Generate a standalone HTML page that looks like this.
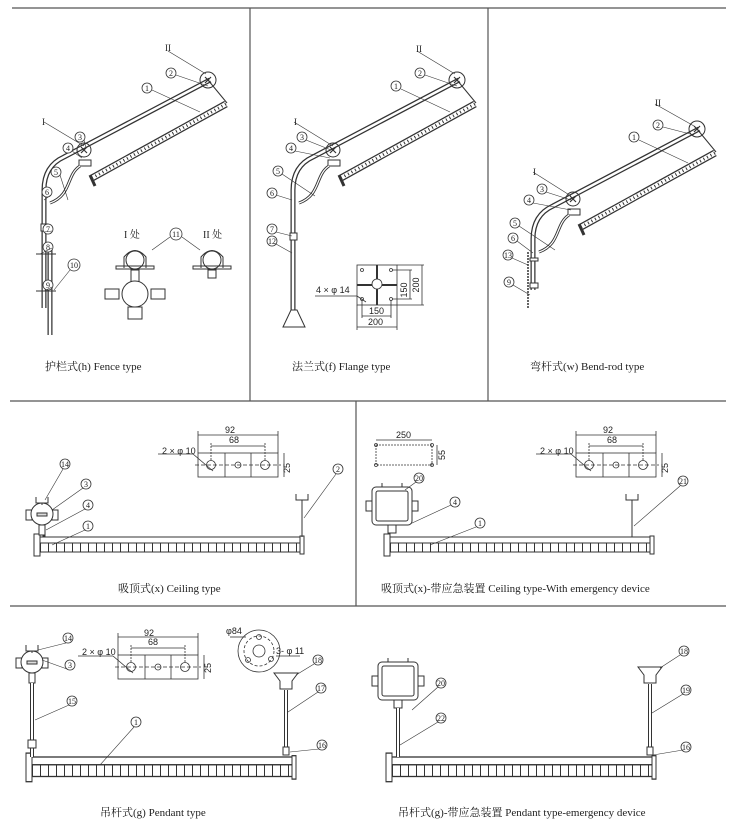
<!DOCTYPE html>
<html><head><meta charset="utf-8"><style>
html,body{margin:0;padding:0;background:#fff}
svg{display:block}
text{font-family:"Liberation Serif","Noto Serif CJK SC","Noto Sans CJK SC",serif;fill:#222}
.n{font-family:"Liberation Sans",sans-serif;font-size:8px;text-anchor:middle}
.c{font-size:11px}
.d{font-family:"Liberation Sans",sans-serif;font-size:9px}
</style></head><body>
<svg width="737" height="835" viewBox="0 0 737 835" xmlns="http://www.w3.org/2000/svg">
<defs>
<pattern id="seg" width="8" height="20" patternUnits="userSpaceOnUse"><rect width="8" height="20" fill="#fff"/><line x1="0.5" y1="0" x2="0.5" y2="20" stroke="#333" stroke-width="1"/></pattern>
<g id="arm" fill="none" stroke="#333">
<path d="M44,205 V190 Q44,166 64,157 L210,80" stroke-width="5"/>
<path d="M44,205 V190 Q44,166 64,157 L210,80" stroke="#fff" stroke-width="2.5"/>
<line x1="92" y1="178" x2="226" y2="104" stroke-width="7"/>
<line x1="92" y1="178" x2="226" y2="104" stroke="#fff" stroke-width="4.5"/>
<line x1="92" y1="178" x2="226" y2="104" stroke-width="3" stroke-dasharray="1 3"/>
<line x1="208" y1="80" x2="227" y2="103" stroke-width="1"/>
<line x1="90" y1="175" x2="95" y2="186" stroke-width="3"/>
<rect x="79" y="160" width="12" height="6" stroke-width="1" fill="#fff"/>
<path d="M80,166 C66,175 72,195 50,203" stroke-width="3"/>
<path d="M80,166 C66,175 72,195 50,203" stroke="#fff" stroke-width="1.2"/>
<circle cx="84" cy="150" r="7" stroke-width="1"/>
<circle cx="208" cy="80" r="8" stroke-width="1"/>
<path d="M81,147 l6,6 M87,147 l-6,6 M205,77 l6,6 M211,77 l-6,6" stroke-width="1.2"/>
</g>
<g id="hlamp">
<rect x="0" y="0" width="260" height="6" fill="#fff" stroke="#333" stroke-width="1"/>
<rect x="0" y="6" width="260" height="9" fill="url(#seg)" stroke="#333" stroke-width="1"/>
<rect x="-6" y="-3" width="6" height="22" fill="#fff" stroke="#333"/>
<rect x="260" y="-1" width="4" height="18" fill="#fff" stroke="#333"/>
</g>
<g id="plate" fill="none" stroke="#333" stroke-width="0.8">
<rect x="0" y="0" width="80" height="24" fill="#fff"/>
<line x1="27" y1="0" x2="27" y2="24"/><line x1="53" y1="0" x2="53" y2="24"/>
<circle cx="13" cy="12" r="4.5"/><circle cx="40" cy="12" r="3"/><circle cx="67" cy="12" r="4.5"/>
<line x1="0" y1="-18" x2="80" y2="-18"/><line x1="13" y1="-7" x2="67" y2="-7"/>
<line x1="0" y1="-22" x2="0" y2="0"/><line x1="80" y1="-22" x2="80" y2="0"/>
<line x1="13" y1="-10" x2="13" y2="8" stroke-dasharray="2 1"/><line x1="67" y1="-10" x2="67" y2="8" stroke-dasharray="2 1"/>
<line x1="-3" y1="12" x2="83" y2="12" stroke-dasharray="4 2"/>
<line x1="86" y1="0" x2="86" y2="24"/>
<line x1="-40" y1="1" x2="-5" y2="1"/><line x1="-5" y1="1" x2="15" y2="18"/>
</g>
<g id="jbox" fill="#fff" stroke="#333" stroke-width="1">
<rect x="-16" y="-4" width="6" height="10"/><rect x="10" y="-4" width="6" height="10"/>
<circle cx="0" cy="0" r="11"/><rect x="-5" y="-1" width="10" height="3" fill="#ddd"/>
<rect x="-3" y="11" width="6" height="10"/>
</g>
<g id="ebox" fill="#fff" stroke="#333" stroke-width="1">
<rect x="0" y="0" width="40" height="38" rx="4"/><rect x="4" y="4" width="32" height="30" rx="2"/>
<rect x="-6" y="14" width="6" height="10"/><rect x="40" y="14" width="6" height="10"/>
<line x1="10" y1="-4" x2="10" y2="0"/><line x1="30" y1="-4" x2="30" y2="0"/>
<rect x="16" y="38" width="8" height="8"/>
</g>
</defs>

<g stroke="#555" stroke-width="1.2" fill="none">
<line x1="12" y1="8" x2="726" y2="8"/>
<line x1="250" y1="8" x2="250" y2="401"/>
<line x1="488" y1="8" x2="488" y2="401"/>
<line x1="10" y1="401" x2="726" y2="401"/>
<line x1="356" y1="401" x2="356" y2="606"/>
<line x1="10" y1="606" x2="726" y2="606"/>
</g>

<use href="#arm"/>
<g stroke="#333" fill="none">
<line x1="44" y1="200" x2="44" y2="308" stroke-width="5"/><line x1="44" y1="200" x2="44" y2="308" stroke="#fff" stroke-width="2.5"/>
<rect x="41" y="224" width="7" height="7" fill="#fff"/>
<line x1="50" y1="245" x2="50" y2="335" stroke-width="5"/><line x1="50" y1="245" x2="50" y2="335" stroke="#fff" stroke-width="2.5"/>
<line x1="36" y1="254" x2="56" y2="254"/><line x1="36" y1="291" x2="56" y2="291"/>
</g>
<g fill="#fff" stroke="#333" stroke-width="0.8">
<circle cx="147" cy="88" r="5"/><circle cx="171" cy="73" r="5"/><circle cx="80" cy="137" r="5"/><circle cx="68" cy="148" r="5"/>
<circle cx="56" cy="172" r="5"/><circle cx="47" cy="192" r="5"/><circle cx="48" cy="229" r="5"/><circle cx="48" cy="247" r="5"/>
<circle cx="48" cy="285" r="5"/><circle cx="74" cy="265" r="6"/><circle cx="176" cy="234" r="6"/>
</g>
<g stroke="#333" stroke-width="0.6">
<line x1="152" y1="90" x2="200" y2="112"/><line x1="176" y1="75" x2="208" y2="86"/><line x1="84" y1="140" x2="86" y2="148"/>
<line x1="72" y1="151" x2="82" y2="158"/><line x1="60" y1="175" x2="68" y2="200"/><line x1="51" y1="195" x2="44" y2="200"/>
<line x1="52" y1="231" x2="44" y2="232"/><line x1="52" y1="248" x2="40" y2="254"/><line x1="52" y1="287" x2="44" y2="291"/>
<line x1="70" y1="270" x2="54" y2="290"/><line x1="44" y1="122" x2="84" y2="146"/><line x1="168" y1="51" x2="206" y2="74"/>
<line x1="170" y1="237" x2="152" y2="250"/><line x1="182" y1="237" x2="200" y2="250"/>
</g>
<g class="n"><text x="147" y="91">1</text><text x="171" y="76">2</text><text x="80" y="140">3</text><text x="68" y="151">4</text>
<text x="56" y="175">5</text><text x="47" y="195">6</text><text x="48" y="232">7</text><text x="48" y="250">8</text><text x="48" y="288">9</text><text x="74" y="268">10</text><text x="176" y="237">11</text></g>
<text x="42" y="125" font-size="9">I</text><text x="165" y="51" font-size="9">II</text>
<text x="124" y="238" font-size="10">I 处</text><text x="203" y="238" font-size="10">II 处</text>
<g fill="none" stroke="#333" stroke-width="1">
<circle cx="135" cy="260" r="9"/><path d="M124,268 V257 Q135,244 146,257 V268"/><rect x="116" y="266" width="38" height="3"/>
<rect x="131" y="270" width="8" height="12" fill="#fff"/>
<circle cx="212" cy="260" r="9"/><path d="M201,268 V257 Q212,244 223,257 V268"/><rect x="193" y="266" width="38" height="3"/>
<rect x="208" y="270" width="8" height="8" fill="#fff"/>
<circle cx="135" cy="294" r="13" fill="#fff"/><rect x="105" y="289" width="14" height="10"/><rect x="151" y="289" width="14" height="10"/>
<rect x="128" y="307" width="14" height="12"/>
</g>
<text x="45" y="370" class="c">护栏式(h) Fence type</text>

<use href="#arm" x="249" y="0"/>
<g stroke="#333" fill="none">
<line x1="293" y1="200" x2="293" y2="327" stroke-width="5"/><line x1="293" y1="200" x2="293" y2="327" stroke="#fff" stroke-width="2.5"/>
<rect x="290" y="233" width="7" height="7" fill="#fff"/>
<path d="M283,327 L291,310 L297,310 L305,327 Z" fill="#fff"/>
</g>
<g fill="#fff" stroke="#333" stroke-width="0.8">
<circle cx="396" cy="86" r="5"/><circle cx="420" cy="73" r="5"/><circle cx="302" cy="137" r="5"/><circle cx="291" cy="148" r="5"/>
<circle cx="278" cy="171" r="5"/><circle cx="272" cy="193" r="5"/><circle cx="272" cy="229" r="5"/><circle cx="272" cy="241" r="5"/>
</g>
<g stroke="#333" stroke-width="0.6">
<line x1="401" y1="89" x2="450" y2="112"/><line x1="425" y1="75" x2="457" y2="86"/><line x1="306" y1="140" x2="331" y2="150"/>
<line x1="295" y1="151" x2="330" y2="158"/><line x1="282" y1="174" x2="315" y2="196"/><line x1="276" y1="195" x2="292" y2="200"/>
<line x1="276" y1="232" x2="292" y2="236"/><line x1="276" y1="244" x2="292" y2="253"/><line x1="294" y1="122" x2="333" y2="146"/><line x1="417" y1="51" x2="455" y2="74"/>
</g>
<g class="n"><text x="396" y="89">1</text><text x="420" y="76">2</text><text x="302" y="140">3</text><text x="291" y="151">4</text><text x="278" y="174">5</text><text x="272" y="196">6</text><text x="272" y="232">7</text><text x="272" y="244">12</text></g>
<text x="294" y="125" font-size="9">I</text><text x="416" y="52" font-size="9">II</text>
<g fill="none" stroke="#333" stroke-width="0.8">
<rect x="357" y="265" width="40" height="40"/><line x1="377" y1="265" x2="377" y2="305" stroke-width="2"/><line x1="357" y1="285" x2="397" y2="285" stroke-width="2"/>
<circle cx="377" cy="284" r="5" fill="#fff"/><circle cx="362" cy="270" r="1.5"/><circle cx="391" cy="270" r="1.5"/><circle cx="362" cy="299" r="1.5"/><circle cx="391" cy="299" r="1.5"/>
<line x1="392" y1="270" x2="412" y2="270"/><line x1="392" y1="299" x2="412" y2="299"/><line x1="410" y1="270" x2="410" y2="299"/>
<line x1="397" y1="265" x2="424" y2="265"/><line x1="397" y1="305" x2="424" y2="305"/><line x1="422" y1="265" x2="422" y2="305"/>
<line x1="362" y1="300" x2="362" y2="318"/><line x1="391" y1="300" x2="391" y2="318"/><line x1="362" y1="316" x2="391" y2="316"/>
<line x1="357" y1="305" x2="357" y2="330"/><line x1="397" y1="305" x2="397" y2="330"/><line x1="357" y1="327" x2="397" y2="327"/>
<line x1="315" y1="296" x2="357" y2="296"/><line x1="357" y1="296" x2="366" y2="302"/>
</g>
<text x="316" y="293" class="d">4 × φ 14</text>
<text x="369" y="314" class="d">150</text><text x="368" y="325" class="d">200</text>
<text x="407" y="290" class="d" transform="rotate(-90 407 290)" text-anchor="middle">150</text>
<text x="419" y="285" class="d" transform="rotate(-90 419 285)" text-anchor="middle">200</text>
<text x="292" y="370" class="c">法兰式(f) Flange type</text>

<use href="#arm" x="489" y="49"/>
<g stroke="#333" fill="none">
<line x1="533" y1="250" x2="533" y2="290" stroke-width="5"/><line x1="533" y1="250" x2="533" y2="290" stroke="#fff" stroke-width="2.5"/>
<line x1="528" y1="252" x2="528" y2="308" stroke-dasharray="2 1" stroke-width="1.5"/>
<rect x="530" y="258" width="8" height="3" fill="#fff"/><rect x="530" y="283" width="8" height="5" fill="#fff"/>
</g>
<g fill="#fff" stroke="#333" stroke-width="0.8">
<circle cx="634" cy="137" r="5"/><circle cx="658" cy="125" r="5"/><circle cx="542" cy="189" r="5"/><circle cx="529" cy="200" r="5"/>
<circle cx="515" cy="223" r="5"/><circle cx="513" cy="238" r="5"/><circle cx="508" cy="255" r="5"/><circle cx="509" cy="282" r="5"/>
</g>
<g stroke="#333" stroke-width="0.6">
<line x1="639" y1="140" x2="688" y2="163"/><line x1="663" y1="127" x2="694" y2="135"/><line x1="546" y1="192" x2="571" y2="200"/>
<line x1="533" y1="203" x2="571" y2="210"/><line x1="519" y1="226" x2="555" y2="250"/><line x1="517" y1="241" x2="533" y2="253"/>
<line x1="512" y1="258" x2="528" y2="265"/><line x1="513" y1="285" x2="530" y2="295"/><line x1="533" y1="172" x2="571" y2="196"/><line x1="655" y1="104" x2="694" y2="126"/>
</g>
<g class="n"><text x="634" y="140">1</text><text x="658" y="128">2</text><text x="542" y="192">3</text><text x="529" y="203">4</text><text x="515" y="226">5</text><text x="513" y="241">6</text><text x="508" y="258">13</text><text x="509" y="285">9</text></g>
<text x="533" y="175" font-size="9">I</text><text x="655" y="106" font-size="9">II</text>
<text x="530" y="370" class="c">弯杆式(w) Bend-rod type</text>

<use href="#hlamp" x="40" y="537"/>
<line x1="44" y1="530" x2="44" y2="537" stroke="#333" stroke-width="3"/>
<use href="#jbox" x="42" y="514"/>
<path d="M36,497 v6 h12 v-6 M42,503 v2" fill="none" stroke="#333"/>
<path d="M296,494 v6 h12 v-6 M302,500 v37" fill="none" stroke="#333"/>
<use href="#plate" x="198" y="453"/>
<text x="225" y="433" class="d">92</text><text x="229" y="443" class="d">68</text><text x="162" y="454" class="d">2 × φ 10</text>
<text x="290" y="468" class="d" transform="rotate(-90 290 468)" text-anchor="middle">25</text>
<g fill="#fff" stroke="#333" stroke-width="0.8"><circle cx="65" cy="464" r="5"/><circle cx="86" cy="484" r="5"/><circle cx="88" cy="505" r="5"/><circle cx="88" cy="526" r="5"/><circle cx="338" cy="469" r="5"/></g>
<g stroke="#333" stroke-width="0.6"><line x1="63" y1="469" x2="45" y2="500"/><line x1="83" y1="488" x2="52" y2="510"/><line x1="85" y1="509" x2="46" y2="530"/><line x1="85" y1="530" x2="52" y2="545"/><line x1="336" y1="474" x2="304" y2="518"/></g>
<g class="n"><text x="65" y="467">14</text><text x="86" y="487">3</text><text x="88" y="508">4</text><text x="88" y="529">1</text><text x="338" y="472">2</text></g>
<text x="118" y="592" class="c">吸顶式(x) Ceiling type</text>

<use href="#hlamp" x="390" y="537"/>
<use href="#ebox" x="372" y="487"/>
<path d="M626,494 v6 h12 v-6 M632,500 v37" fill="none" stroke="#333"/>
<g fill="none" stroke="#333" stroke-width="0.8">
<rect x="376" y="445" width="56" height="20" stroke-dasharray="2 1"/>
<circle cx="376" cy="445" r="1.5"/><circle cx="432" cy="445" r="1.5"/><circle cx="376" cy="465" r="1.5"/><circle cx="432" cy="465" r="1.5"/>
<line x1="376" y1="440" x2="432" y2="440"/><line x1="437" y1="445" x2="437" y2="465"/>
</g>
<text x="396" y="438" class="d">250</text>
<text x="445" y="455" class="d" transform="rotate(-90 445 455)" text-anchor="middle">55</text>
<use href="#plate" x="576" y="453"/>
<text x="603" y="433" class="d">92</text><text x="607" y="443" class="d">68</text><text x="540" y="454" class="d">2 × φ 10</text>
<text x="668" y="468" class="d" transform="rotate(-90 668 468)" text-anchor="middle">25</text>
<g fill="#fff" stroke="#333" stroke-width="0.8"><circle cx="419" cy="478" r="5"/><circle cx="455" cy="502" r="5"/><circle cx="480" cy="523" r="5"/><circle cx="683" cy="481" r="5"/></g>
<g stroke="#333" stroke-width="0.6"><line x1="416" y1="482" x2="405" y2="490"/><line x1="451" y1="505" x2="410" y2="524"/><line x1="476" y1="527" x2="430" y2="545"/><line x1="680" y1="486" x2="634" y2="526"/></g>
<g class="n"><text x="419" y="481">20</text><text x="455" y="505">4</text><text x="480" y="526">1</text><text x="683" y="484">21</text></g>
<text x="381" y="592" class="c">吸顶式(x)-带应急装置 Ceiling type-With emergency device</text>

<g transform="translate(32,757) scale(1,1.3)"><use href="#hlamp"/></g>
<use href="#jbox" x="32" y="662"/>
<path d="M26,645 v6 h12 v-6 M32,651 v2" fill="none" stroke="#333"/>
<line x1="32" y1="683" x2="32" y2="757" stroke="#333" stroke-width="4"/><line x1="32" y1="683" x2="32" y2="757" stroke="#fff" stroke-width="2"/>
<rect x="28" y="740" width="8" height="8" fill="#fff" stroke="#333"/>
<line x1="286" y1="690" x2="286" y2="755" stroke="#333" stroke-width="4"/><line x1="286" y1="690" x2="286" y2="755" stroke="#fff" stroke-width="2"/>
<path d="M274,673 h24 l-6,8 v8 h-12 v-8 Z" fill="#fff" stroke="#333"/>
<rect x="283" y="747" width="6" height="8" fill="#fff" stroke="#333"/>
<use href="#plate" x="118" y="655"/>
<text x="144" y="636" class="d">92</text><text x="148" y="645" class="d">68</text><text x="82" y="655" class="d">2 × φ 10</text>
<text x="211" y="668" class="d" transform="rotate(-90 211 668)" text-anchor="middle">25</text>
<g fill="none" stroke="#333" stroke-width="0.8">
<circle cx="259" cy="651" r="21"/><circle cx="259" cy="651" r="15" stroke-dasharray="3 2"/><circle cx="259" cy="651" r="6"/>
<circle cx="259" cy="637" r="2.5"/><circle cx="248" cy="660" r="2.5"/><circle cx="271" cy="659" r="2.5"/>
<line x1="230" y1="637" x2="246" y2="637"/><line x1="276" y1="656" x2="300" y2="656"/>
</g>
<text x="226" y="634" class="d">φ84</text><text x="276" y="654" class="d">3- φ 11</text>
<g fill="#fff" stroke="#333" stroke-width="0.8"><circle cx="68" cy="638" r="5"/><circle cx="70" cy="665" r="5"/><circle cx="72" cy="701" r="5"/><circle cx="136" cy="722" r="5"/><circle cx="318" cy="660" r="5"/><circle cx="321" cy="688" r="5"/><circle cx="322" cy="745" r="5"/></g>
<g stroke="#333" stroke-width="0.6"><line x1="66" y1="643" x2="38" y2="650"/><line x1="67" y1="669" x2="42" y2="660"/><line x1="69" y1="705" x2="35" y2="720"/><line x1="134" y1="727" x2="100" y2="765"/><line x1="314" y1="664" x2="296" y2="675"/><line x1="318" y1="692" x2="288" y2="712"/><line x1="319" y1="749" x2="290" y2="752"/></g>
<g class="n"><text x="68" y="641">14</text><text x="70" y="668">3</text><text x="72" y="704">15</text><text x="136" y="725">1</text><text x="318" y="663">18</text><text x="321" y="691">17</text><text x="322" y="748">16</text></g>
<text x="100" y="816" class="c">吊杆式(g) Pendant type</text>

<g transform="translate(392,757) scale(1,1.3)"><use href="#hlamp"/></g>
<use href="#ebox" x="378" y="662"/>
<line x1="398" y1="708" x2="398" y2="757" stroke="#333" stroke-width="4"/><line x1="398" y1="708" x2="398" y2="757" stroke="#fff" stroke-width="2"/>
<line x1="650" y1="684" x2="650" y2="755" stroke="#333" stroke-width="4"/><line x1="650" y1="684" x2="650" y2="755" stroke="#fff" stroke-width="2"/>
<path d="M638,667 h24 l-6,8 v8 h-12 v-8 Z" fill="#fff" stroke="#333"/>
<rect x="647" y="747" width="6" height="8" fill="#fff" stroke="#333"/>
<g fill="#fff" stroke="#333" stroke-width="0.8"><circle cx="441" cy="683" r="5"/><circle cx="441" cy="718" r="5"/><circle cx="684" cy="651" r="5"/><circle cx="686" cy="690" r="5"/><circle cx="686" cy="747" r="5"/></g>
<g stroke="#333" stroke-width="0.6"><line x1="438" y1="687" x2="412" y2="710"/><line x1="438" y1="722" x2="400" y2="745"/><line x1="680" y1="655" x2="660" y2="668"/><line x1="683" y1="694" x2="652" y2="713"/><line x1="683" y1="750" x2="653" y2="755"/></g>
<g class="n"><text x="441" y="686">20</text><text x="441" y="721">22</text><text x="684" y="654">18</text><text x="686" y="693">19</text><text x="686" y="750">16</text></g>
<text x="398" y="816" class="c">吊杆式(g)-带应急装置 Pendant type-emergency device</text>
</svg>
</body></html>
